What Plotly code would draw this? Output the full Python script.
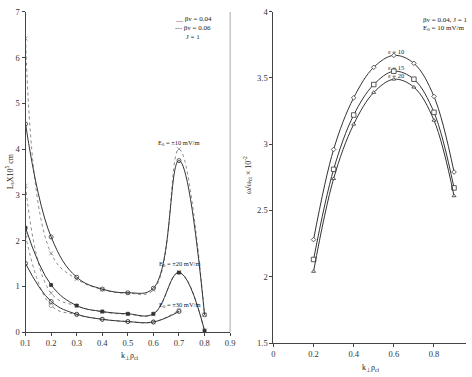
import plotly.graph_objects as go

# ---------- Left chart data ----------
k_left = [0.1, 0.2, 0.3, 0.4, 0.5, 0.6, 0.7, 0.8]
k_left30 = [0.1, 0.2, 0.3, 0.4, 0.5, 0.6, 0.7]
L10_bv004 = [4.55, 2.08, 1.20, 0.94, 0.86, 0.96, 3.75, 0.38]
L10_bv006 = [6.42, 1.72, 1.16, 0.93, 0.85, 0.92, 4.00, 0.38]
L20_bv004 = [2.28, 1.03, 0.58, 0.45, 0.40, 0.40, 1.30, 0.03]
L20_bv006 = [3.20, 0.85, 0.57, 0.44, 0.39, 0.39, 1.31, 0.03]
L30_bv004 = [1.50, 0.67, 0.39, 0.28, 0.23, 0.22, 0.45]
L30_bv006 = [2.12, 0.58, 0.38, 0.28, 0.23, 0.22, 0.48]
left_xticks = [0.1, 0.2, 0.3, 0.4, 0.5, 0.6, 0.7, 0.8, 0.9]
left_yticks = [0, 1, 2, 3, 4, 5, 6, 7]

# ---------- Right chart data ----------
k_right = [0.2, 0.3, 0.4, 0.5, 0.6, 0.7, 0.8, 0.9]
w_eps10 = [2.28, 2.96, 3.35, 3.58, 3.67, 3.61, 3.36, 2.79]
w_eps15 = [2.13, 2.81, 3.22, 3.45, 3.55, 3.49, 3.24, 2.67]
w_eps20 = [2.04, 2.74, 3.15, 3.39, 3.49, 3.43, 3.18, 2.61]
right_xticks = [0, 0.2, 0.4, 0.6, 0.8]
right_yticks = [1.5, 2, 2.5, 3, 3.5, 4]

FONT = "Liberation Serif"
SOLID = "#333333"
DOTC = "#8a8a8a"

fig = go.Figure()

def add_left(x, y, dash, color, symbol, size=4):
    fig.add_trace(go.Scatter(
        x=x, y=y, mode="lines+markers", xaxis="x", yaxis="y",
        line=dict(color=color, width=1, dash=dash, shape="spline", smoothing=1.15),
        marker=dict(symbol=symbol, size=size, color=color, line=dict(color=color, width=0.8)),
        showlegend=False, hoverinfo="skip"))

add_left(k_left, L10_bv006, "dot", DOTC, "x-thin-open")
add_left(k_left, L10_bv004, "solid", SOLID, "circle-open")
add_left(k_left, L20_bv006, "dot", DOTC, "x-thin-open")
add_left(k_left, L20_bv004, "solid", SOLID, "square", 3)
add_left(k_left30, L30_bv006, "dot", DOTC, "circle-open")
add_left(k_left30, L30_bv004, "solid", SOLID, "circle-open")

def add_right(y, symbol, size):
    fig.add_trace(go.Scatter(
        x=k_right, y=y, mode="lines+markers", xaxis="x2", yaxis="y2",
        line=dict(color=SOLID, width=1, shape="spline", smoothing=1.0),
        marker=dict(symbol=symbol, size=size, color="white", line=dict(color=SOLID, width=0.8)),
        showlegend=False, hoverinfo="skip"))

add_right(w_eps10, "diamond", 3.5)
add_right(w_eps15, "square", 4.5)
add_right(w_eps20, "triangle-up", 3.5)

axis_common = dict(showgrid=False, zeroline=False, showline=True, linecolor="#444444",
                   linewidth=1, ticks="outside", ticklen=3, tickcolor="#444444",
                   tickfont=dict(family=FONT, size=8.5, color="#333333"))

fig.update_layout(
    width=472, height=377,
    margin=dict(l=0, r=0, t=0, b=0),
    paper_bgcolor="white", plot_bgcolor="white",
    xaxis=dict(domain=[0.0445, 0.4873], range=[0.1, 0.9], tickvals=left_xticks,
               ticktext=[f"{v:.1f}" for v in left_xticks], anchor="y", **axis_common),
    yaxis=dict(domain=[0.1088, 0.981], range=[0, 7], tickvals=left_yticks, anchor="x",
               **axis_common),
    xaxis2=dict(domain=[0.581, 0.998], range=[0, 0.96], tickvals=right_xticks,
                ticktext=["0", "0.2", "0.4", "0.6", "0.8"], anchor="y2", **axis_common),
    yaxis2=dict(domain=[0.079, 0.982], range=[1.5, 4], tickvals=right_yticks,
                ticktext=["1.5", "2", "2.5", "3", "3.5", "4"], anchor="x2", **axis_common),
)

# right border of left panel
fig.add_shape(type="line", xref="x domain", yref="y domain", x0=1, x1=1, y0=0, y1=1,
              line=dict(color="#aaaaaa", width=1))

def ann(text, x, y, xref, yref, size=6.5, xanchor="center", angle=0):
    fig.add_annotation(text=text, x=x, y=y, xref=xref, yref=yref, showarrow=False,
                       xanchor=xanchor, yanchor="middle", textangle=angle,
                       font=dict(family=FONT, size=size, color="#222222"))

# left annotations
ann("E<sub>0</sub> = ±10 mV/m", 0.70, 4.13, "x", "y")
ann("E<sub>0</sub> = ±20 mV/m", 0.705, 1.49, "x", "y")
ann("E<sub>0</sub> = ±30 mV/m", 0.705, 0.60, "x", "y")
ann("__ βv = 0.04", 0.755, 6.85, "x", "y", size=7)
ann("--- βv = 0.06", 0.755, 6.64, "x", "y", size=7)
ann("J = 1", 0.755, 6.45, "x", "y", size=7)

# left axis titles
ann("k<sub>⊥</sub>ρ<sub>ci</sub>", 127 / 472, 1 - 361 / 377, "paper", "paper", size=8)
ann("L<sub>s</sub>X10<sup>5</sup> cm", 5 / 472, 1 - 171 / 377, "paper", "paper", size=8, angle=-90)

# right annotations
ann("ε = 10", 0.61, 3.70, "x2", "y2")
ann("ε = 15", 0.61, 3.575, "x2", "y2")
ann("ε = 20", 0.61, 3.52, "x2", "y2")
ann("βv = 0.04, J = 1", 0.735, 3.94, "x2", "y2", size=7, xanchor="left")
ann("E<sub>0</sub> = 10 mV/m", 0.735, 3.875, "x2", "y2", size=7, xanchor="left")

# right axis titles
ann("k<sub>⊥</sub>ρ<sub>ci</sub>", 373 / 472, 1 - 373 / 377, "paper", "paper", size=8)
ann("ω/ω<sub>ci</sub> × 10<sup>-2</sup>", 248 / 472, 1 - 175 / 377, "paper", "paper", size=8, angle=-90)

fig.write_html("out.html")
